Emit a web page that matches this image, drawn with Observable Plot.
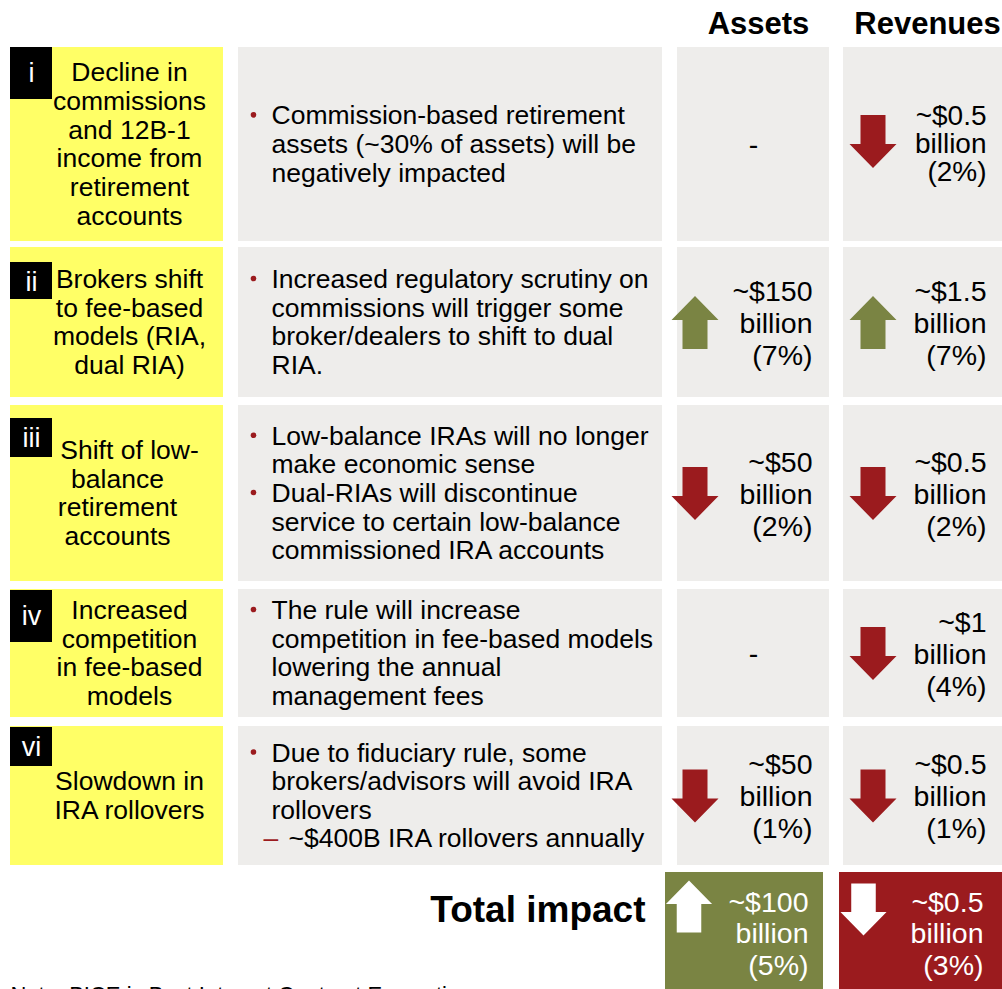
<!DOCTYPE html>
<html>
<head>
<meta charset="utf-8">
<script src="https://cdn.jsdelivr.net/npm/d3@7"></script>
<script src="https://cdn.jsdelivr.net/npm/@observablehq/plot@0.6"></script>
<style>
  html, body { margin: 0; padding: 0; background: #fff; overflow: hidden; }
  #chart svg { display: block; }
</style>
</head>
<body>
<div id="chart"></div>
<script>
// ---------------- DATA ----------------
const numerals = ["i", "ii", "iii", "iv", "vi"];
const drivers = [
  "Decline in\ncommissions\nand 12B-1\nincome from\nretirement\naccounts",
  "Brokers shift\nto fee-based\nmodels (RIA,\ndual RIA)",
  "Shift of low-\nbalance\nretirement\naccounts",
  "Increased\ncompetition\nin fee-based\nmodels",
  "Slowdown in\nIRA rollovers"
];
const bullets = [
  [["Commission-based retirement", "assets (~30% of assets) will be", "negatively impacted"]],
  [["Increased regulatory scrutiny on", "commissions will trigger some", "broker/dealers to shift to dual", "RIA."]],
  [["Low-balance IRAs will no longer", "make economic sense"], ["Dual-RIAs will discontinue", "service to certain low-balance", "commissioned IRA accounts"]],
  [["The rule will increase", "competition in fee-based models", "lowering the annual", "management fees"]],
  [["Due to fiduciary rule, some", "brokers/advisors will avoid IRA", "rollovers"]]
];
const subBullets = [[], [], [], [], ["~$400B IRA rollovers annually"]];
const columnHeaders = ["Assets", "Revenues"];
const assetValues = ["-", "~$150\nbillion\n(7%)", "~$50\nbillion\n(2%)", "-", "~$50\nbillion\n(1%)"];
const assetDirection = [0, 1, -1, 0, -1];
const revenueValues = ["~$0.5\nbillion\n(2%)", "~$1.5\nbillion\n(7%)", "~$0.5\nbillion\n(2%)", "~$1\nbillion\n(4%)", "~$0.5\nbillion\n(1%)"];
const revenueDirection = [-1, 1, -1, -1, -1];
const totalLabel = "Total impact";
const totalValues = ["~$100\nbillion\n(5%)", "~$0.5\nbillion\n(3%)"];
const totalDirection = [1, -1];
const note = "Note: BICE is Best Interest Contract Exemption";

// ---------------- LAYOUT ----------------
const W = 1002, H = 989;
const FONT = "'Liberation Sans', Arial, Helvetica, sans-serif";
const COL = {driver: [10, 223], body: [238, 662], assets: [677, 829], revenue: [843, 1002]};
const ROWS = [[47, 241], [247, 397], [405, 581], [589, 717], [726, 865]];
const BADGES = [[47, 99], [262, 299], [418, 457], [590, 642], [727, 766]];
const BADGE_X = [10, 52];
const TOTAL_Y = [872, 995];
const TOTAL_COL = [[665, 823], [839, 1002]];
const COLORS = {yellow: "#FFFF66", gray: "#EEEDEB", red: "#9B1B1E", green: "#7A8443", black: "#000"};
const LINE = 28.65;
const center = r => (ROWS[r][0] + ROWS[r][1]) / 2;

// arrow symbols (custom Plot symbol)
function arrow(dir) {
  return {
    draw(ctx, size) {
      const r = Math.sqrt(size / Math.PI);
      const hw = r * 23.5 / 26.5, sw = r * 12.5 / 26.5, hh = r * 24 / 26.5;
      const s = dir;
      ctx.moveTo(0, -s * r);
      ctx.lineTo(hw, -s * (r - hh));
      ctx.lineTo(sw, -s * (r - hh));
      ctx.lineTo(sw, s * r);
      ctx.lineTo(-sw, s * r);
      ctx.lineTo(-sw, -s * (r - hh));
      ctx.lineTo(-hw, -s * (r - hh));
      ctx.closePath();
    }
  };
}
const UP = arrow(1), DOWN = arrow(-1);

// ---------------- DERIVED TABLES ----------------
const rowIdx = d3.range(numerals.length);
const cells = [];
rowIdx.forEach(r => {
  cells.push({x1: COL.driver[0], x2: COL.driver[1], y1: ROWS[r][0], y2: ROWS[r][1], fill: COLORS.yellow});
  cells.push({x1: COL.body[0], x2: COL.body[1], y1: ROWS[r][0], y2: ROWS[r][1], fill: COLORS.gray});
  cells.push({x1: COL.assets[0], x2: COL.assets[1], y1: ROWS[r][0], y2: ROWS[r][1], fill: COLORS.gray});
  cells.push({x1: COL.revenue[0], x2: COL.revenue[1], y1: ROWS[r][0], y2: ROWS[r][1], fill: COLORS.gray});
});
const badges = rowIdx.map(r => ({label: numerals[r], x1: BADGE_X[0], x2: BADGE_X[1], y1: BADGES[r][0], y2: BADGES[r][1]}));

const driverLines = [];
rowIdx.forEach(r => {
  const lines = drivers[r].split("\n");
  lines.forEach((t, i) => driverLines.push({
    text: t,
    x: (r === 2 && i > 0) ? 117 : 129,
    y: center(r) + (i - (lines.length - 1) / 2) * LINE
  }));
});

const bodyLines = [], bulletMarks = [], subMarks = [];
rowIdx.forEach(r => {
  const lines = [];
  bullets[r].forEach(b => b.forEach((t, i) => lines.push({text: t, kind: i === 0 ? "bullet" : "cont"})));
  subBullets[r].forEach(t => lines.push({text: t, kind: "sub"}));
  lines.forEach((l, k) => {
    const y = center(r) + (k - (lines.length - 1) / 2) * LINE;
    bodyLines.push({text: l.text, x: l.kind === "sub" ? 288 : 271, y});
    if (l.kind === "bullet") bulletMarks.push({x: 253, y: y - 1});
    if (l.kind === "sub") subMarks.push({x: 263, y});
  });
});

const valueTexts = [];
const dashTexts = [];
const arrows = [];
rowIdx.forEach(r => {
  const y = center(r);
  if (assetValues[r] === "-") {
    dashTexts.push({text: assetValues[r], x: (COL.assets[0] + COL.assets[1]) / 2, y, weight: r === 0 ? "bold" : "normal"});
  } else {
    valueTexts.push({text: assetValues[r], x: COL.assets[1] - 17, y, tight: r === 0});
  }
  valueTexts.push({text: revenueValues[r], x: COL.revenue[1] - 16, y, tight: r === 0});
  if (assetDirection[r] !== 0) arrows.push({x: COL.assets[0] + 17.5, y, dir: assetDirection[r], fill: assetDirection[r] > 0 ? COLORS.green : COLORS.red});
  if (revenueDirection[r] !== 0) arrows.push({x: COL.revenue[0] + 29.5, y: r === 0 ? y - 3 : y, dir: revenueDirection[r], fill: revenueDirection[r] > 0 ? COLORS.green : COLORS.red});
});

const totalBoxes = TOTAL_COL.map((c, i) => ({x1: c[0], x2: c[1], y1: TOTAL_Y[0], y2: TOTAL_Y[1], fill: totalDirection[i] > 0 ? COLORS.green : COLORS.red}));
const totalTexts = TOTAL_COL.map((c, i) => ({text: totalValues[i], x: c[1] - (i === 0 ? 15 : 19), y: 933}));
const totalArrows = TOTAL_COL.map((c, i) => ({x: c[0] + 23.5 + i * 0.5, y: i === 0 ? 906 : 909, dir: totalDirection[i]}));

const headers = columnHeaders.map((h, i) => ({text: h, x: i === 0 ? 758 : 927, y: 24}));

// ---------------- PLOT ----------------
const txt = {fontFamily: FONT};
const chart = Plot.plot({
  width: W,
  height: H,
  margin: 0,
  x: {type: "identity", axis: null},
  y: {type: "identity", axis: null},
  style: {fontFamily: FONT, background: "#fff"},
  marks: [
    Plot.rect(cells, {x1: "x1", x2: "x2", y1: "y1", y2: "y2", fill: d => d.fill}),
    Plot.rect(badges, {x1: "x1", x2: "x2", y1: "y1", y2: "y2", fill: COLORS.black}),
    Plot.text(badges, {x: d => (d.x1 + d.x2) / 2, y: d => d.y1 + 26 - (d.y2 - d.y1 < 45 ? 6 : 0), text: "label", fill: "#fff", fontSize: 27, ...txt}),
    Plot.text(driverLines, {x: "x", y: "y", text: "text", fontSize: 26.5, fill: "#000", ...txt}),
    Plot.text(bodyLines, {x: "x", y: "y", text: "text", textAnchor: "start", fontSize: 26.5, fill: "#000", ...txt}),
    Plot.dot(bulletMarks, {x: "x", y: "y", r: 2.8, fill: COLORS.red, stroke: null}),
    Plot.text(subMarks, {x: "x", y: "y", text: () => "\u2013", textAnchor: "start", fontSize: 26.5, fill: COLORS.red, ...txt}),
    Plot.text(valueTexts.filter(d => d.tight), {x: "x", y: "y", text: "text", textAnchor: "end", lineHeight: 1.0, fontSize: 28, fill: "#000", ...txt}),
    Plot.text(valueTexts.filter(d => !d.tight), {x: "x", y: "y", text: "text", textAnchor: "end", lineHeight: 1.12, fontSize: 28.5, fill: "#000", ...txt}),
    Plot.text(dashTexts, {x: "x", y: "y", text: "text", fontSize: 28.5, fontWeight: d => d.weight, fill: "#000", ...txt}),
    Plot.dot(arrows.filter(d => d.dir > 0), {x: "x", y: "y", r: 26.5, symbol: UP, fill: d => d.fill, stroke: null}),
    Plot.dot(arrows.filter(d => d.dir < 0), {x: "x", y: "y", r: 26.5, symbol: DOWN, fill: d => d.fill, stroke: null}),
    Plot.text(headers, {x: "x", y: "y", text: "text", fontSize: 31, fontWeight: "bold", fill: "#000", ...txt}),
    Plot.rect(totalBoxes, {x1: "x1", x2: "x2", y1: "y1", y2: "y2", fill: d => d.fill}),
    Plot.dot(totalArrows.filter(d => d.dir > 0), {x: "x", y: "y", r: 26, symbol: UP, fill: "#fff", stroke: null}),
    Plot.dot(totalArrows.filter(d => d.dir < 0), {x: "x", y: "y", r: 26, symbol: DOWN, fill: "#fff", stroke: null}),
    Plot.text(totalTexts, {x: "x", y: "y", text: "text", textAnchor: "end", lineHeight: 1.09, fontSize: 28.5, fill: "#fff", ...txt}),
    Plot.text([totalLabel], {x: 645, y: 910, text: d => d, textAnchor: "end", fontSize: 37, fontWeight: "bold", fill: "#000", ...txt}),
    Plot.text([note], {x: 10, y: 994, text: d => d, textAnchor: "start", fontSize: 22, fill: "#000", ...txt})
  ]
});
document.getElementById("chart").appendChild(chart);
</script>
</body>
</html>
